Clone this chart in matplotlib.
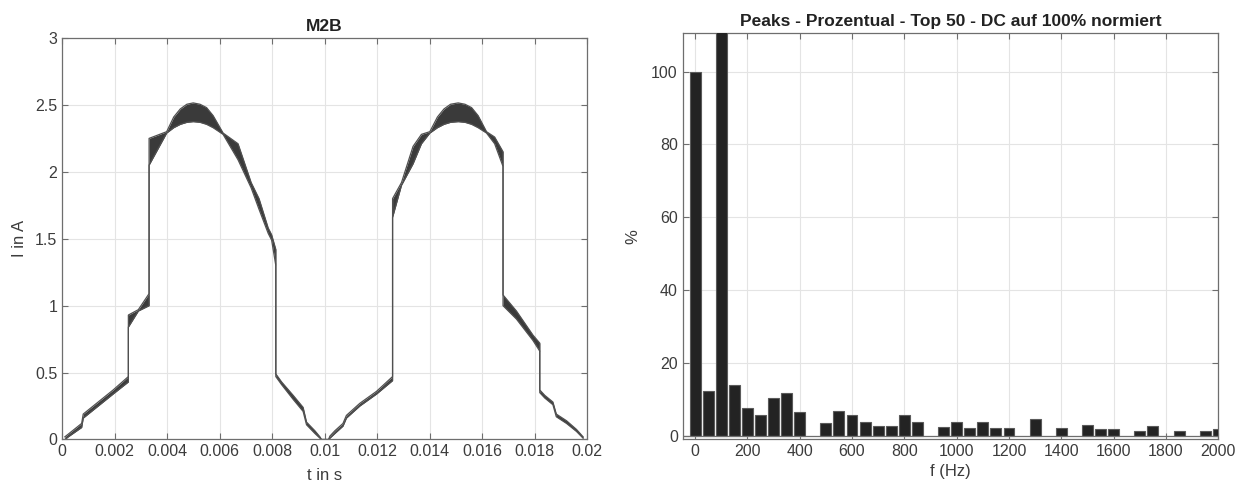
import matplotlib
matplotlib.use("Agg")
import matplotlib.pyplot as plt
import numpy as np

plt.rcParams['font.family'] = ['Liberation Sans', 'DejaVu Sans']

# ---- Left chart: current waveform band (upper / lower envelope), time in ms ----
t_ms = [0.10, 0.23, 0.74, 0.80, 1.37, 1.94, 2.52, 2.52, 2.90, 3.31, 3.31,
        3.98, 4.25, 4.50, 4.75, 4.99, 5.25, 5.50, 5.75, 6.13, 6.70, 7.20, 7.50,
        7.85, 7.98, 8.14, 8.14,
        8.36, 8.80, 9.18, 9.31, 9.63, 9.82, 9.88, 10.15, 10.20, 10.39, 10.70,
        10.83, 11.34, 11.98, 12.59, 12.59, 12.93, 13.37, 13.69, 14.01, 14.30,
        14.55, 14.80, 15.09, 15.35, 15.60, 15.85, 16.17, 16.48, 16.80, 16.80,
        17.31, 17.94, 18.20, 18.20,
        18.39, 18.70, 18.83, 19.22, 19.60, 19.85]
i_upper = [0.02, 0.04, 0.12, 0.19, 0.28, 0.37, 0.47, 0.93, 0.97, 1.09, 2.25,
           2.30, 2.41, 2.47, 2.505, 2.515, 2.505, 2.48, 2.42, 2.29, 2.21, 1.92, 1.80,
           1.58, 1.53, 1.42, 0.49,
           0.43, 0.33, 0.24, 0.13, 0.065, 0.02, 0.0, 0.0, 0.025, 0.065, 0.12,
           0.18, 0.27, 0.36, 0.47, 1.80, 1.92, 2.19, 2.28, 2.30, 2.41,
           2.47, 2.505, 2.515, 2.505, 2.48, 2.42, 2.30, 2.26, 2.15, 1.08,
           0.96, 0.78, 0.72, 0.37,
           0.33, 0.28, 0.19, 0.14, 0.075, 0.02]
i_lower = [0.00, 0.02, 0.09, 0.16, 0.25, 0.34, 0.43, 0.84, 0.96, 1.00, 2.05,
           2.29, 2.33, 2.355, 2.37, 2.375, 2.37, 2.355, 2.33, 2.28, 2.09, 1.88, 1.72,
           1.54, 1.49, 1.30, 0.47,
           0.41, 0.30, 0.21, 0.11, 0.045, 0.01, 0.0, 0.0, 0.01, 0.045, 0.10,
           0.16, 0.25, 0.34, 0.44, 1.66, 1.90, 2.06, 2.21, 2.29, 2.33,
           2.355, 2.37, 2.375, 2.37, 2.355, 2.33, 2.29, 2.21, 2.04, 1.00,
           0.90, 0.74, 0.66, 0.35,
           0.31, 0.26, 0.17, 0.12, 0.06, 0.01]

left_xticks = [0, 0.002, 0.004, 0.006, 0.008, 0.01, 0.012, 0.014, 0.016, 0.018, 0.02]
left_xticklabels = ['0', '0.002', '0.004', '0.006', '0.008', '0.01', '0.012',
                    '0.014', '0.016', '0.018', '0.02']
left_yticks = [0, 0.5, 1, 1.5, 2, 2.5, 3]
left_yticklabels = ['0', '0.5', '1', '1.5', '2', '2.5', '3']

# ---- Right chart: harmonic peaks in percent ----
freqs = [0, 50, 100, 150, 200, 250, 300, 350, 400, 500, 550, 600, 650, 700,
         750, 800, 850, 950, 1000, 1050, 1100, 1150, 1200, 1300, 1400, 1500,
         1550, 1600, 1700, 1750, 1850, 1950, 2000]
percent = [100, 12.3, 115, 14.0, 7.6, 5.9, 10.5, 11.7, 6.5, 3.5, 7.0, 5.8, 3.8,
           2.9, 2.7, 5.7, 3.8, 2.6, 3.9, 2.3, 3.8, 2.2, 2.3, 4.6, 2.3, 3.0,
           2.0, 2.0, 1.5, 2.7, 1.5, 1.5, 2.0]
right_xticks = [0, 200, 400, 600, 800, 1000, 1200, 1400, 1600, 1800, 2000]
right_yticks = [0, 20, 40, 60, 80, 100]

axis_col = '#6e6e6e'
text_col = '#3c3c3c'
grid_col = '#e4e4e4'

fig = plt.figure(figsize=(12.35, 4.86), dpi=100)
ax1 = fig.add_axes([0.0504, 0.0957, 0.4249, 0.8261])
ax2 = fig.add_axes([0.5528, 0.0967, 0.4337, 0.8348])

def style(ax):
    for s in ax.spines.values():
        s.set_color(axis_col)
        s.set_linewidth(0.9)
    ax.tick_params(direction='in', top=True, right=True, length=4,
                   color=axis_col, labelcolor=text_col, labelsize=11.5, width=0.8)
    ax.grid(True, color=grid_col, linewidth=0.8)
    ax.set_axisbelow(True)

# Left
t_s = np.array(t_ms) / 1000.0
ax1.fill_between(t_s, i_lower, i_upper, color='#3a3a3a', linewidth=0)
ax1.plot(t_s, i_upper, color='#505050', linewidth=0.9)
ax1.plot(t_s, i_lower, color='#505050', linewidth=0.9)
ax1.set_xlim(0, 0.02)
ax1.set_ylim(0, 3)
ax1.set_xticks(left_xticks)
ax1.set_xticklabels(left_xticklabels)
ax1.set_yticks(left_yticks)
ax1.set_yticklabels(left_yticklabels)
style(ax1)
ax1.set_title('M2B', fontsize=12.5, fontweight='bold', color='#222222', pad=5)
ax1.set_xlabel('t in s', fontsize=12, color=text_col, labelpad=6)
ax1.set_ylabel('I in A', fontsize=12, color=text_col, labelpad=6)

# Right
ax2.bar(freqs, percent, width=42, color='#232323', edgecolor='#5a5a5a',
        linewidth=0.8, zorder=3)
ax2.axhline(0, color=axis_col, linewidth=0.9, zorder=4)
ax2.set_xlim(-47, 2000)
ax2.set_ylim(-0.8, 110.5)
ax2.set_xticks(right_xticks)
ax2.set_yticks(right_yticks)
style(ax2)
ax2.set_title('Peaks - Prozentual - Top 50 - DC auf 100% normiert', fontsize=12.5,
              fontweight='bold', color='#222222', pad=5)
ax2.set_xlabel('f (Hz)', fontsize=12, color=text_col, labelpad=4)
ax2.set_ylabel('%', fontsize=12, color=text_col, labelpad=8)

fig.savefig('out.png', dpi=100)
